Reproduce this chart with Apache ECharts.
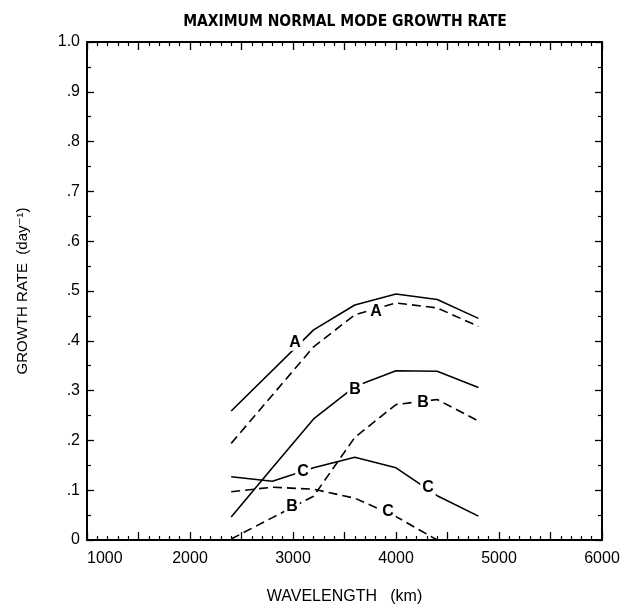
<!DOCTYPE html>
<html>
<head>
<meta charset="utf-8">
<script src="https://cdn.jsdelivr.net/npm/echarts@6/dist/echarts.min.js"></script>
<style>
  html, body { margin: 0; padding: 0; background: #fff; }
  #chart { width: 633px; height: 610px; }
</style>
</head>
<body>
<div id="chart"></div>
<script>
// Wavelength (km) of the computed modes
const wavelengthsA = [2400, 3200, 3600, 4000, 4400, 4800];
const wavelengths = [2400, 2800, 3200, 3600, 4000, 4400, 4800];

// Maximum growth rate (day^-1), solid and dashed curves for cases A, B, C
const aSolid  = [0.259, 0.422, 0.472, 0.494, 0.483, 0.445];
const aDashed = [0.194, 0.388, 0.452, 0.476, 0.466, 0.429];
const bSolid  = [0.046, 0.145, 0.243, 0.308, 0.340, 0.339, 0.306];
const bDashed = [0.002, 0.045, 0.088, 0.206, 0.272, 0.282, 0.239];
const cSolid  = [0.127, 0.118, 0.145, 0.166, 0.145, 0.089, 0.048];
const cDashed = [0.097, 0.106, 0.102, 0.084, 0.047, 0.000, null];

// Curve letters: [wavelength, growth rate, letter]
const curveLabels = [
  [3020, 0.396, 'A'],
  [3806, 0.459, 'A'],
  [3602, 0.302, 'B'],
  [4262, 0.275, 'B'],
  [2990, 0.067, 'B'],
  [3097, 0.137, 'C'],
  [4311, 0.106, 'C'],
  [3922, 0.057, 'C']
];

const yTickLabel = v => {
  if (Math.abs(v) < 1e-9) return '0';
  if (Math.abs(v - 1) < 1e-9) return '1.0';
  return '.' + Math.round(v * 10);
};

function pairs(xs, ys) {
  return xs.map((x, i) => [x, ys[i]]).filter(p => p[1] !== null);
}

const INK = '#000';
const FONT = '"Liberation Sans", "DejaVu Sans", sans-serif';

function curve(xs, ys, dashed) {
  return {
    type: 'line',
    data: pairs(xs, ys),
    symbol: 'none',
    silent: true,
    clip: true,
    z: 2,
    lineStyle: { color: INK, width: 1.6, type: dashed ? [9, 5] : 'solid' }
  };
}

const chart = echarts.init(document.getElementById('chart'), null, { renderer: 'canvas' });

const baseX = {
  type: 'value', min: 1000, max: 6000, interval: 500,
  axisLine: { show: true, onZero: false, lineStyle: { color: INK, width: 2 } },
  axisTick: { show: true, inside: true, length: 8, lineStyle: { color: INK, width: 1.3 } },
  minorTick: { show: true, splitNumber: 5, length: 4, lineStyle: { color: INK, width: 1.2 } },
  splitLine: { show: false }
};
const baseY = {
  type: 'value', min: 0, max: 1, interval: 0.1,
  axisLine: { show: true, onZero: false, lineStyle: { color: INK, width: 2 } },
  axisTick: { show: true, inside: true, length: 7, lineStyle: { color: INK, width: 1.3 } },
  minorTick: { show: true, splitNumber: 2, length: 4, lineStyle: { color: INK, width: 1.2 } },
  splitLine: { show: false }
};

chart.setOption({
  backgroundColor: '#fff',
  animation: false,
  title: {
    text: 'MAXIMUM NORMAL MODE GROWTH RATE',
    left: 340, top: 9, textAlign: 'center',
    textStyle: { fontFamily: '"Liberation Sans Narrow", "DejaVu Sans Condensed", sans-serif', fontWeight: 'bold', fontSize: 15.5, color: INK }
  },
  grid: { left: 87, right: 31, top: 42, bottom: 58 },
  xAxis: [
    Object.assign({}, baseX, {
      position: 'bottom',
      name: 'WAVELENGTH   (km)', nameLocation: 'middle', nameGap: 49,
      nameTextStyle: { fontFamily: FONT, fontSize: 16, color: INK },
      axisLabel: {
        show: true, margin: 11, fontFamily: FONT, fontSize: 16, color: INK,
        formatter: v => (v % 1000 === 0 ? String(v) : ''),
        alignMinLabel: 'left'
      }
    }),
    Object.assign({}, baseX, { position: 'top', axisLabel: { show: false } })
  ],
  yAxis: [
    Object.assign({}, baseY, {
      position: 'left',
      name: 'GROWTH RATE  (day\u207B\u00B9)', nameLocation: 'middle', nameGap: 57, nameRotate: 90,
      nameTextStyle: { fontFamily: FONT, fontSize: 15, color: INK },
      axisLabel: { show: true, margin: 7, fontFamily: FONT, fontSize: 16, color: INK, formatter: yTickLabel }
    }),
    Object.assign({}, baseY, { position: 'right', axisLabel: { show: false } })
  ],
  series: [
    curve(wavelengthsA, aSolid, false),
    curve(wavelengthsA, aDashed, true),
    curve(wavelengths, bSolid, false),
    curve(wavelengths, bDashed, true),
    curve(wavelengths, cSolid, false),
    curve(wavelengths, cDashed, true),
    {
      type: 'scatter',
      data: curveLabels.map(d => ({ value: [d[0], d[1]], name: d[2] })),
      symbolSize: 0,
      itemStyle: { color: '#fff', opacity: 1 },
      silent: true,
      z: 5,
      label: {
        show: true, position: 'inside',
        formatter: p => p.name,
        fontFamily: FONT, fontWeight: 'bold', fontSize: 16, color: '#000',
        textBorderWidth: 0, opacity: 1,
        backgroundColor: '#fff', padding: [0, 2]
      }
    }
  ]
});
</script>
</body>
</html>
